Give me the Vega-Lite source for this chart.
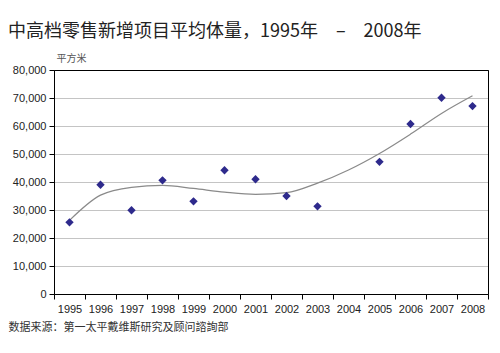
{
  "$schema": "https://vega.github.io/schema/vega-lite/v6.json",
  "width": 434,
  "height": 224,
  "autosize": {"type": "none"},
  "padding": {"left": 54, "top": 70, "right": 12, "bottom": 59},
  "background": "white",
  "config": {
    "view": {"stroke": "#000", "strokeWidth": 1},
    "font": "Liberation Sans"
  },
  "title": {
    "text": "中高档零售新增项目平均体量，1995年\u2003–\u20032008年",
    "anchor": "start",
    "frame": "group",
    "dx": -46,
    "dy": -8,
    "font": "Noto Sans CJK SC",
    "fontSize": 18,
    "fontWeight": "normal",
    "color": "#222"
  },
  "datasets": {
    "points": [
      {"year": "1995", "area": 25600},
      {"year": "1996", "area": 39000},
      {"year": "1997", "area": 29900},
      {"year": "1998", "area": 40600},
      {"year": "1999", "area": 33100},
      {"year": "2000", "area": 44200},
      {"year": "2001", "area": 41000},
      {"year": "2002", "area": 35000},
      {"year": "2003", "area": 31300},
      {"year": "2005", "area": 47200},
      {"year": "2006", "area": 60700},
      {"year": "2007", "area": 70100},
      {"year": "2008", "area": 67100}
    ],
    "trend": [
      {"year": "1995", "area": 26300},
      {"year": "1996", "area": 35300},
      {"year": "1997", "area": 38100},
      {"year": "1998", "area": 38800},
      {"year": "1999", "area": 37700},
      {"year": "2000", "area": 36400},
      {"year": "2001", "area": 35600},
      {"year": "2002", "area": 36200},
      {"year": "2003", "area": 39600},
      {"year": "2004", "area": 44300},
      {"year": "2005", "area": 50200},
      {"year": "2006", "area": 57100},
      {"year": "2007", "area": 64500},
      {"year": "2008", "area": 70800}
    ]
  },
  "resolve": {"axis": {"x": "independent", "y": "independent"}},
  "layer": [
    {
      "data": {"name": "trend"},
      "mark": {"type": "line", "interpolate": "monotone", "color": "#8a8a8a", "strokeWidth": 1.2},
      "encoding": {
        "x": {
          "field": "year",
          "type": "ordinal",
          "scale": {"domain": ["1995","1996","1997","1998","1999","2000","2001","2002","2003","2004","2005","2006","2007","2008"], "paddingInner": 0, "paddingOuter": 0},
          "axis": {
            "title": "数据来源：第一太平戴维斯研究及顾问諮詢部",
            "titleX": -46,
            "titleY": 27,
            "titleAlign": "left",
            "titleAnchor": null,
            "titleBaseline": "top",
            "titleFont": "Noto Sans CJK SC",
            "titleFontSize": 11,
            "titleFontWeight": "normal",
            "titleColor": "#333",
            "labelAngle": 0,
            "labelFontSize": 11,
            "labelColor": "#222",
            "labelPadding": 4,
            "tickBand": "extent",
            "tickSize": 5,
            "tickColor": "#000",
            "domainColor": "#000",
            "grid": false
          }
        },
        "y": {
          "field": "area",
          "type": "quantitative",
          "scale": {"domain": [0, 80000], "nice": false},
          "axis": {
            "title": "平方米",
            "titleAngle": 0,
            "titleX": 2,
            "titleY": -7,
            "titleAlign": "left",
            "titleBaseline": "bottom",
            "titleFont": "Noto Sans CJK SC",
            "titleFontSize": 10,
            "titleFontWeight": "normal",
            "titleColor": "#555",
            "values": [0,10000,20000,30000,40000,50000,60000,70000,80000],
            "format": ",.0f",
            "labelFontSize": 11,
            "labelColor": "#222",
            "labelPadding": 3,
            "tickSize": 5,
            "tickColor": "#000",
            "domainColor": "#000",
            "grid": true,
            "gridColor": "#c4c4c4",
            "gridWidth": 1
          }
        }
      }
    },
    {
      "data": {"name": "points"},
      "mark": {"type": "point", "shape": "diamond", "filled": true, "color": "#2e2a8c", "size": 70, "opacity": 1},
      "encoding": {
        "x": {
          "field": "year",
          "type": "ordinal",
          "axis": {"orient": "top", "title": null, "labels": false, "ticks": false, "grid": false, "domainColor": "#000"}
        },
        "y": {
          "field": "area",
          "type": "quantitative",
          "axis": {"orient": "right", "title": null, "labels": false, "ticks": false, "grid": false, "domainColor": "#000"}
        }
      }
    }
  ]
}
